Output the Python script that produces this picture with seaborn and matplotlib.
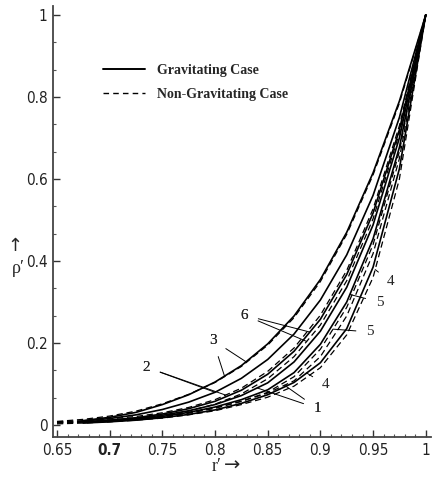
import numpy as np
import seaborn as sns
import matplotlib.pyplot as plt
from matplotlib.lines import Line2D
from matplotlib.ticker import MultipleLocator

# -----------------------------------------------------------------------------
# Data (r' grid and rho' values per curve)
# -----------------------------------------------------------------------------
r = [0.65, 0.675, 0.7, 0.725, 0.75, 0.775, 0.8, 0.825, 0.85, 0.875, 0.9, 0.925, 0.95, 0.975, 1.0]

# gravitating case (solid)
g3 = [0.006, 0.011, 0.019, 0.031, 0.050, 0.074, 0.105, 0.145, 0.198, 0.266, 0.355, 0.470, 0.615, 0.790, 1.0]
g2 = [0.006, 0.010, 0.016, 0.025, 0.038, 0.056, 0.080, 0.114, 0.160, 0.222, 0.305, 0.415, 0.560, 0.750, 1.0]
g6 = [0.005, 0.008, 0.012, 0.018, 0.027, 0.040, 0.058, 0.085, 0.124, 0.180, 0.258, 0.367, 0.517, 0.720, 1.0]
g1 = [0.004, 0.007, 0.011, 0.016, 0.024, 0.035, 0.050, 0.072, 0.103, 0.154, 0.229, 0.336, 0.488, 0.700, 1.0]
g5 = [0.004, 0.006, 0.009, 0.014, 0.021, 0.031, 0.044, 0.062, 0.086, 0.128, 0.197, 0.300, 0.454, 0.677, 1.0]
g4 = [0.003, 0.005, 0.008, 0.012, 0.018, 0.026, 0.037, 0.053, 0.074, 0.104, 0.152, 0.235, 0.385, 0.625, 1.0]

# non-gravitating case (dashed)
n3 = [0.009, 0.014, 0.022, 0.034, 0.052, 0.075, 0.104, 0.143, 0.195, 0.262, 0.350, 0.465, 0.610, 0.785, 1.0]
n2 = [0.008, 0.011, 0.015, 0.021, 0.030, 0.043, 0.062, 0.090, 0.131, 0.188, 0.268, 0.377, 0.527, 0.730, 1.0]
n6 = [0.007, 0.009, 0.012, 0.016, 0.023, 0.034, 0.051, 0.076, 0.113, 0.167, 0.244, 0.352, 0.503, 0.712, 1.0]
n1 = [0.006, 0.008, 0.011, 0.015, 0.021, 0.030, 0.042, 0.058, 0.078, 0.108, 0.167, 0.266, 0.418, 0.650, 1.0]
n5 = [0.005, 0.007, 0.010, 0.014, 0.020, 0.029, 0.041, 0.058, 0.080, 0.118, 0.185, 0.287, 0.440, 0.667, 1.0]
n4 = [0.003, 0.005, 0.008, 0.012, 0.017, 0.025, 0.035, 0.050, 0.068, 0.095, 0.140, 0.220, 0.360, 0.600, 1.0]

solid = {'3': g3, '2': g2, '6': g6, '1': g1, '5': g5, '4': g4}
dashed = {'3': n3, '2': n2, '6': n6, '1': n1, '5': n5, '4': n4}

# curve labels: (text, text position, curve, r' the pointer lands on)
labels = [
    ('3', (0.798, 0.207), g3, 0.809), ('3', (0.798, 0.207), n3, 0.830),
    ('2', (0.735, 0.141), g2, 0.800), ('2', (0.735, 0.141), n2, 0.810),
    ('6', (0.828, 0.268), g6, 0.890), ('6', (0.828, 0.268), n6, 0.887),
    ('1', (0.897, 0.041), g1, 0.840), ('1', (0.897, 0.041), n1, 0.866),
    ('5', (0.956, 0.300), g5, 0.928),
    ('5', (0.947, 0.227), n5, 0.912),
    ('4', (0.967, 0.349), n4, 0.952),
    ('4', (0.905, 0.098), g4, 0.887),
]

# -----------------------------------------------------------------------------
# Plot
# -----------------------------------------------------------------------------
sns.set_style('ticks')
serif = ['Liberation Serif', 'DejaVu Serif']

fig = plt.figure(figsize=(4.33, 4.79), dpi=100)
ax = fig.add_axes([0.1224, 0.0877, 0.873, 0.90])

for k, y in solid.items():
    sns.lineplot(x=r[1:], y=y[1:], ax=ax, color='black', lw=1.2)
for k, y in dashed.items():
    sns.lineplot(x=r, y=y, ax=ax, color='black', lw=0.9, linestyle=(0, (5, 3)))

ax.set_xlim(0.6462, 1.005)
ax.set_ylim(-0.029, 1.022)
ax.xaxis.set_minor_locator(MultipleLocator(0.01))
ax.yaxis.set_minor_locator(MultipleLocator(0.2 / 3))
ax.set_xticks([0.65, 0.7, 0.75, 0.8, 0.85, 0.9, 0.95, 1.0])
ax.set_xticklabels(['0.65', '0.7', '0.75', '0.8', '0.85', '0.9', '0.95', '1'])
ax.set_yticks([0, 0.2, 0.4, 0.6, 0.8, 1.0])
ax.set_yticklabels(['0', '0.2', '0.4', '0.6', '0.8', '1'])
ax.tick_params(which='major', direction='in', length=5, width=1, color='#333')
ax.tick_params(which='minor', direction='in', length=2.5, width=0.8, color='#555')
ax.tick_params(axis='x', pad=4)
ax.tick_params(axis='y', pad=4)
for t in ax.get_xticklabels() + ax.get_yticklabels():
    t.set_family('DejaVu Sans')
    t.set_stretch('condensed')
    t.set_fontsize(11)
    t.set_color('#222')
ax.get_xticklabels()[1].set_fontweight('bold')

sns.despine(ax=ax)
for s in ['left', 'bottom']:
    ax.spines[s].set_color('#444')
    ax.spines[s].set_linewidth(1.3)

for txt, xy_text, curve, rx in labels:
    ry = np.interp(rx, r, curve)
    ax.annotate(txt, xy=(rx, ry), xytext=xy_text, fontsize=11, family=serif,
                ha='center', va='center',
                arrowprops=dict(arrowstyle='-', lw=0.7, color='black', shrinkA=5, shrinkB=0))

leg = ax.legend(handles=[Line2D([], [], color='black', lw=1.4),
                         Line2D([], [], color='black', lw=1.0, linestyle=(0, (4, 3)))],
                labels=['Gravitating Case', 'Non-Gravitating Case'],
                loc='upper left', bbox_to_anchor=(0.10, 0.895), frameon=False,
                handlelength=3.0, handletextpad=0.9, labelspacing=0.8,
                prop={'family': serif, 'size': 10, 'weight': 'bold'})

ax.set_xlabel('')
ax.set_ylabel('')
fig.text(0.035, 0.487, '↑', fontsize=13, family='DejaVu Sans', ha='center', va='center')
fig.text(0.042, 0.44, 'ρ′', fontsize=13, family=serif, ha='center', va='center')
fig.text(0.500, 0.027, 'r′', fontsize=13, family=serif, ha='center', va='center')
fig.text(0.537, 0.029, '→', fontsize=14, family='DejaVu Sans', ha='center', va='center')

fig.savefig('out.png', dpi=100)
